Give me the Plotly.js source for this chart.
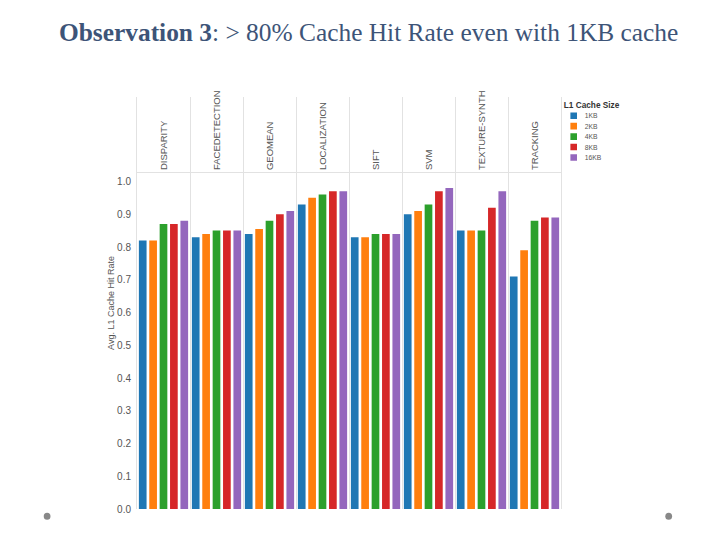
<!DOCTYPE html>
<html>
<head>
<meta charset="utf-8">
<script src="https://cdn.plot.ly/plotly-3.0.1.min.js"></script>
<style>html,body{margin:0;padding:0;background:#fff;}#chart{width:720px;height:540px;}</style>
</head>
<body>
<div id="chart"></div>
<script>
// ---- data ----
const categories = ["DISPARITY", "FACEDETECTION", "GEOMEAN", "LOCALIZATION", "SIFT", "SVM", "TEXTURE-SYNTH", "TRACKING"];
const cacheSizes = ["1KB", "2KB", "4KB", "8KB", "16KB"];
const hit1KB  = [0.82, 0.83, 0.84, 0.93, 0.83, 0.90, 0.85, 0.71];
const hit2KB  = [0.82, 0.84, 0.855, 0.95, 0.83, 0.91, 0.85, 0.79];
const hit4KB  = [0.87, 0.85, 0.88, 0.96, 0.84, 0.93, 0.85, 0.88];
const hit8KB  = [0.87, 0.85, 0.90, 0.97, 0.84, 0.97, 0.92, 0.89];
const hit16KB = [0.88, 0.85, 0.91, 0.97, 0.84, 0.98, 0.97, 0.89];
const yTicks = [0.0, 0.1, 0.2, 0.3, 0.4, 0.5, 0.6, 0.7, 0.8, 0.9, 1.0];
const colors = ["#1f77b4", "#ff7f0e", "#2ca02c", "#d62728", "#9467bd"];

const series = [hit1KB, hit2KB, hit4KB, hit8KB, hit16KB];
const traces = series.map((vals, i) => ({
  type: "bar",
  name: cacheSizes[i],
  x: categories,
  y: vals,
  marker: {color: colors[i], line: {width: 0}},
  hoverinfo: "x+y+name"
}));

const layout = {
  width: 720, height: 540,
  paper_bgcolor: "#ffffff",
  plot_bgcolor: "#ffffff",
  margin: {l: 137, r: 159, t: 97, b: 31},
  title: {
    text: "<b>Observation 3</b>: &gt; 80% Cache Hit Rate even with 1KB cache",
    font: {family: "Liberation Serif, serif", size: 25.4, color: "#3d5478"},
    x: 0.512, xanchor: "center", y: 0.94, yanchor: "middle"
  },
  barmode: "group",
  bargap: 0.02,
  bargroupgap: 0.26,
  showlegend: true,
  legend: {
    x: 1.004, xanchor: "left", y: 1.0, yanchor: "top",
    title: {text: "<b>L1 Cache Size</b>", font: {family: "Liberation Sans, Arial", size: 15, color: "#333"}},
    font: {family: "Liberation Sans, Arial", size: 12.3, color: "#555"},
    bgcolor: "rgba(0,0,0,0)", borderwidth: 0,
    tracegroupgap: 0
  },
  xaxis: {
    type: "category",
    categoryorder: "array",
    categoryarray: categories,
    side: "top",
    anchor: "free",
    position: 0.818,
    tickson: "boundaries",
    ticks: "",
    tickangle: -90,
    tickfont: {family: "Liberation Sans, Arial", size: 9.5, color: "#555"},
    showgrid: true,
    gridcolor: "#e2e2e2",
    gridwidth: 1,
    showline: true,
    linecolor: "#e2e2e2",
    linewidth: 1,
    zeroline: false,
    fixedrange: true
  },
  yaxis: {
    range: [0, 1.258],
    tickmode: "array",
    tickvals: yTicks,
    tickformat: ".1f",
    tickfont: {family: "Liberation Sans, Arial", size: 10, color: "#555"},
    showgrid: false,
    zeroline: false,
    showline: true,
    mirror: true,
    linecolor: "#e2e2e2",
    linewidth: 1,
    ticks: "",
    ticklabelstandoff: 3,
    title: {text: "Avg. L1 Cache Hit Rate", font: {family: "Liberation Sans, Arial", size: 9, color: "#555"}, standoff: 0},
    automargin: false
  },
  shapes: [
    {type: "circle", xref: "paper", yref: "paper", x0: -0.220, x1: -0.204, y0: -0.009, y1: -0.026, fillcolor: "#888", line: {width: 0}},
    {type: "circle", xref: "paper", yref: "paper", x0: 1.246, x1: 1.262, y0: -0.009, y1: -0.026, fillcolor: "#888", line: {width: 0}}
  ]
};

Plotly.newPlot("chart", traces, layout, {displayModeBar: false, staticPlot: true}).then(() => {
  const lg = document.querySelector("#chart .legend");
  if (lg) {
    const t = lg.getAttribute("transform") || "";
    lg.setAttribute("transform", t + " scale(0.55)");
  }
});
</script>
</body>
</html>
